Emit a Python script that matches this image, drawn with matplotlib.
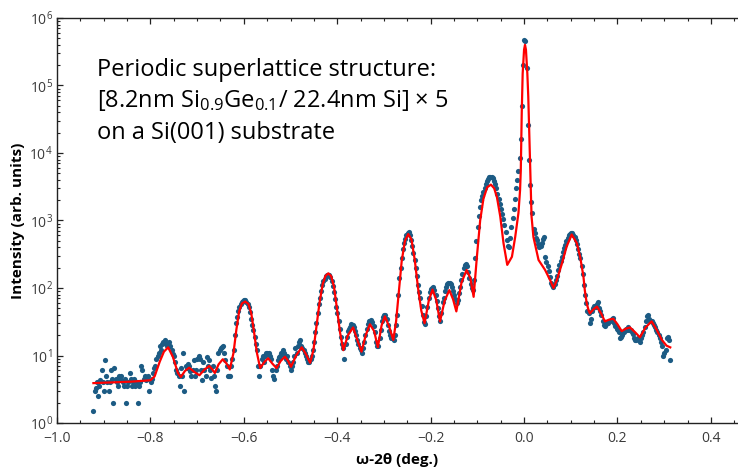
import matplotlib
matplotlib.use('Agg')
import matplotlib.pyplot as plt
import numpy as np
from matplotlib.ticker import MultipleLocator, LogLocator, NullFormatter

plt.rcParams['mathtext.default'] = 'regular'
plt.rcParams['font.family'] = ['Open Sans', 'DejaVu Sans']

# measured scan: omega-2theta steps
scan_start = -0.922
scan_step = 0.0025
intensity = [
    1.5, 3, 3.3, 4, 2.5, 3.5, 4.3, 6, 4, 3,
    8.5, 5, 4, 3, 4, 6, 4.5, 2, 6.5, 4.5,
    4, 3.5, 5, 4.5, 5, 4, 3.5, 4.5, 2, 3.5,
    4, 5.5, 4.5, 3.5, 4, 4.5, 3.5, 4, 2, 3.5,
    4, 7, 6, 4.5, 5, 4.3, 4.5, 5, 3, 4,
    4.5, 5.5, 6.5, 7, 9, 10, 11, 14, 12, 15,
    16, 17, 15, 14, 15, 16, 14, 12, 10.5, 10,
    8, 6, 5.5, 5, 3.5, 6.5, 5, 11, 3, 7,
    6.5, 7.5, 7, 5.8, 5, 6, 8.5, 5, 6, 9,
    10, 9, 6, 4.3, 8, 6, 5, 9.5, 7, 8.5,
    6, 4.6, 7, 5, 3.5, 3, 6, 11, 12, 13,
    13.5, 14, 11, 8.5, 7, 5, 5, 5, 7, 9,
    12, 20, 30, 37, 45, 52, 57, 62, 65, 66,
    66, 63, 58, 52, 44, 35, 28, 24, 19, 15,
    12, 7, 5, 7, 9, 10, 8, 10, 11, 11,
    11, 10, 9, 6, 5, 4.5, 6, 7, 8.5, 9.5,
    10, 11, 12, 11, 10, 9, 10, 8, 7, 6,
    7, 8, 10, 13, 11, 14, 16, 17, 14, 13,
    12, 11, 10, 9, 8, 8, 9, 10, 12, 16,
    22, 30, 42, 58, 72, 90, 110, 125, 138, 150,
    155, 158, 155, 145, 128, 108, 88, 68, 52, 42,
    33, 25, 19, 15, 13, 9, 15, 19, 23, 25,
    26, 29, 28, 26, 23, 20, 17, 15, 13, 12,
    11, 13, 16, 20, 25, 29, 32, 33, 34, 31,
    27, 22, 16, 14, 14, 18, 24, 32, 37, 40,
    40, 35, 28, 23, 20, 18, 19, 17, 20, 28,
    40, 80, 140, 200, 280, 380, 460, 530, 600, 660,
    670, 610, 520, 420, 330, 260, 200, 150, 110, 88,
    72, 55, 40, 31, 29, 38, 53, 72, 88, 98,
    100, 102, 92, 78, 64, 50, 38, 33, 42, 62,
    72, 90, 105, 115, 118, 118, 113, 105, 90, 78,
    68, 60, 66, 85, 105, 130, 160, 195, 220, 225,
    210, 175, 140, 115, 100, 95, 130, 280, 500, 800,
    1150, 1600, 2000, 2300, 2600, 3000, 3500, 3800, 4100, 4400,
    4450, 4400, 4200, 3900, 3500, 3000, 2500, 2100, 1750, 1500,
    1250, 1050, 850, 680, 520, 420, 400, 550, 800, 1100,
    1500, 2100, 3000, 4000, 5500, 8500, 16000, 50000, 200000, 470000,
    460000, 180000, 26000, 8000, 3400, 1900, 1300, 750, 650, 550,
    520, 450, 400, 420, 470, 540, 560, 290, 240, 210,
    180, 145, 120, 110, 105, 115, 130, 150, 185, 220,
    250, 290, 340, 390, 440, 500, 550, 600, 640, 650,
    650, 620, 570, 510, 450, 380, 320, 280, 210, 160,
    110, 80, 60, 45, 42, 30, 35, 45, 50, 55,
    52, 58, 63, 50, 45, 40, 33, 28, 27, 29,
    30, 30, 32, 34, 35, 36, 30, 27, 25, 24,
    22, 18, 19, 20, 22, 24, 25, 24, 26, 24,
    24, 22, 21, 18, 17, 17, 18, 17, 16, 18,
    20, 22, 26, 33, 38, 40, 35, 33, 32, 30,
    28, 26, 24, 22, 20, 18, 16, 14, 10, 11,
    12, 18, 19, 17, 8.5,
]

# simulated fit
fit_angle = [
    -0.922, -0.88, -0.84, -0.80, -0.791, -0.78, -0.771, -0.762, -0.752, -0.741,
    -0.735, -0.726, -0.717, -0.706, -0.695, -0.684, -0.674, -0.668, -0.662, -0.654,
    -0.645, -0.637, -0.630, -0.622, -0.616, -0.610, -0.604, -0.597, -0.590, -0.584,
    -0.578, -0.572, -0.565, -0.556, -0.548, -0.539, -0.530, -0.521, -0.512, -0.505,
    -0.499, -0.488, -0.476, -0.467, -0.458, -0.451, -0.445, -0.438, -0.431, -0.425,
    -0.419, -0.413, -0.407, -0.401, -0.394, -0.387, -0.377, -0.366, -0.357, -0.348,
    -0.339, -0.330, -0.321, -0.313, -0.305, -0.298, -0.289, -0.280, -0.274, -0.268,
    -0.262, -0.255, -0.248, -0.241, -0.234, -0.227, -0.220, -0.213, -0.204, -0.196,
    -0.188, -0.180, -0.170, -0.160, -0.152, -0.145, -0.134, -0.123, -0.115, -0.108,
    -0.101, -0.094, -0.087, -0.079, -0.071, -0.064, -0.058, -0.051, -0.044, -0.036,
    -0.026, -0.019, -0.012, -0.0086, -0.007, -0.005, -0.003, 0.000, 0.002, 0.004,
    0.007, 0.009, 0.011, 0.013, 0.016, 0.020, 0.031, 0.045, 0.056, 0.063,
    0.070, 0.081, 0.091, 0.102, 0.113, 0.120, 0.127, 0.130, 0.134, 0.138,
    0.141, 0.148, 0.156, 0.165, 0.173, 0.182, 0.191, 0.200, 0.209, 0.218,
    0.227, 0.238, 0.248, 0.260, 0.273, 0.284, 0.295, 0.305, 0.313,
]
fit_intensity = [
    3.9, 4.0, 4.1, 4.3, 4.9, 8.1, 11.4, 13.2, 9.6, 5.5,
    4.8, 5.9, 6.6, 5.7, 5.1, 6.2, 7.0, 6.3, 5.5, 7.4,
    8.8, 7.6, 6.2, 11, 24, 45, 59, 63, 58, 42,
    22, 11, 6.5, 8.0, 9.1, 7.6, 6.5, 8.3, 9.6, 8.3,
    6.8, 10, 13.2, 10.5, 7.8, 12, 25, 60, 115, 152,
    165, 150, 105, 52, 22, 12, 20, 26, 17, 11.4,
    20, 29, 23, 13.3, 28, 38, 27, 17, 32, 90,
    250, 500, 630, 520, 260, 100, 46, 30, 65, 95,
    66, 32, 65, 93, 68, 45, 120, 185, 140, 74,
    290, 1000, 2100, 3100, 3400, 3000, 2200, 1150, 460, 220,
    290, 570, 1300, 2800, 5600, 39000, 150000, 340000, 400000, 340000,
    150000, 68000, 22000, 7100, 1150, 570, 260, 185, 130, 100,
    130, 230, 410, 620, 460, 290, 150, 93, 60, 47,
    42, 48, 53, 42, 32, 34, 35, 29, 23, 25,
    26, 22, 18.6, 26, 32, 24, 17, 14, 13.2,
]

angle = scan_start + scan_step * np.arange(len(intensity))

fig = plt.figure(figsize=(7.38, 4.72), dpi=100)
ax = fig.add_axes([0.0772, 0.1038, 0.9228, 0.8581])

ax.scatter(angle, intensity, s=14, color='#1c5b84', linewidths=0, zorder=2)
ax.plot(fit_angle, fit_intensity, color='#ff0000', lw=1.6, zorder=3)

ax.set_yscale('log')
ax.set_ylim(1, 1e6)
ax.set_xlim(-1.0, 0.458)

ax.spines['right'].set_visible(False)
for side in ['left', 'top', 'bottom']:
    ax.spines[side].set_color('#222222')
    ax.spines[side].set_linewidth(1.0)

ax.xaxis.set_major_locator(MultipleLocator(0.2))
ax.xaxis.set_minor_locator(MultipleLocator(0.05))
decades = [1, 10, 100, 1e3, 1e4, 1e5, 1e6]
ax.set_yticks(decades)
ax.set_yticklabels([r'$\mathregular{10^{%d}}$' % k for k in range(7)])
ax.yaxis.set_minor_locator(LogLocator(base=10, subs=np.arange(2, 10)))
ax.yaxis.set_minor_formatter(NullFormatter())

ax.tick_params(which='both', direction='in', top=True, right=False,
               color='#222222', labelcolor='#3a3a3a', labelsize=10)
ax.tick_params(which='major', length=4.5, width=0.9)
ax.tick_params(which='minor', length=2.5, width=0.8)
ax.tick_params(axis='x', which='major', pad=6)
ax.tick_params(axis='y', which='major', pad=3)

ax.set_xlabel('ω-2θ (deg.)', fontweight='bold', fontsize=11, labelpad=5)
ax.set_ylabel('Intensity (arb. units)', fontweight='bold', fontsize=11, labelpad=3)

txt = dict(transform=ax.transAxes, fontsize=17, color='black',
           va='baseline', ha='left')
ax.text(0.0587, 0.857, 'Periodic superlattice structure:', **txt)
ax.text(0.0587, 0.779, r'[8.2nm Si$_{0.9}$Ge$_{0.1}$/ 22.4nm Si] × 5', **txt)
ax.text(0.0587, 0.701, 'on a Si(001) substrate', **txt)

fig.savefig('out.png', dpi=100)
